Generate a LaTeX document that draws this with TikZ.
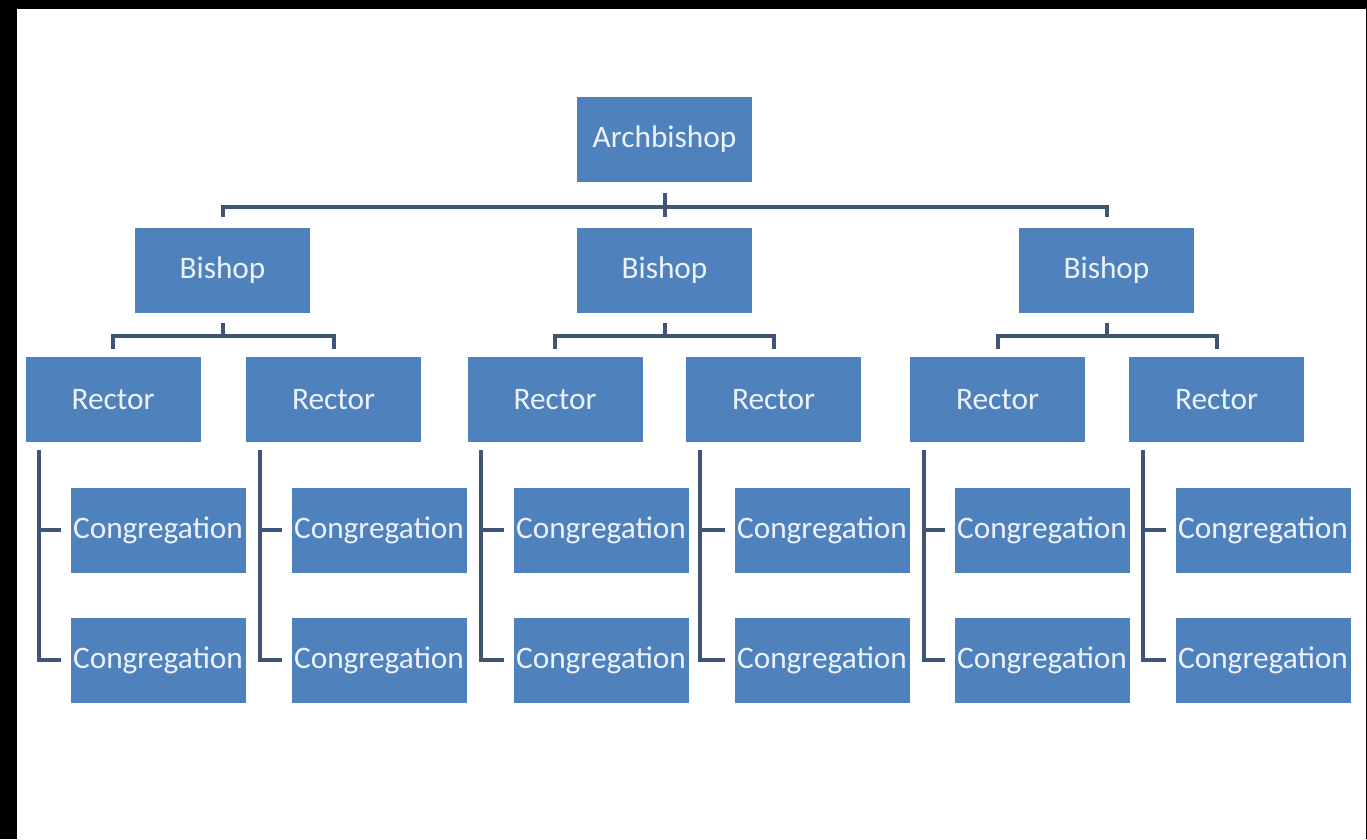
\documentclass[tikz,border=0pt]{standalone}
\usepackage{fontspec}
\setmainfont{Carlito}
\usetikzlibrary{calc}
\definecolor{boxblue}{RGB}{79,129,189}
\definecolor{linec}{RGB}{64,84,118}
\definecolor{txt}{RGB}{235,242,252}
\begin{document}
\begin{tikzpicture}[x=0.75pt,y=-0.75pt,
  box/.style={fill=boxblue,draw=none,minimum width=131.25pt,minimum height=63.75pt,inner sep=0pt,text=txt,font=\fontsize{23.5}{26}\selectfont},
  conn/.style={draw=linec,line width=3pt}]
\useasboundingbox (0,0) rectangle (1367,839);
\fill[black] (0,0) rectangle (1367,839);
\fill[white] (17,9) rectangle (1366,839);
% nodes
\node[box] (arch) at (664.5,139.5) {Archbishop};
\node[box] (b1) at (222.5,270) {Bishop};
\node[box] (b2) at (664.5,270) {Bishop};
\node[box] (b3) at (1106.5,270) {Bishop};
\node[box] (r1) at (113,399.5) {Rector};
\node[box] (r2) at (333.5,399.5) {Rector};
\node[box] (r3) at (555,399.5) {Rector};
\node[box] (r4) at (773.5,399.5) {Rector};
\node[box] (r5) at (997.5,399.5) {Rector};
\node[box] (r6) at (1216.5,399.5) {Rector};
\foreach \i/\x in {1/158,2/379,3/601,4/822,5/1042,6/1263}{
  \node[box] (c\i a) at (\x,530) {Congregation};
  \node[box] (c\i b) at (\x,660) {Congregation};
}
% archbishop to bishops
\draw[conn] ($(arch.south)+(0,11)$) -- ($(b2.north)+(0,-10)$);
\coordinate (abar) at ($(arch.south)+(0,25)$);
\draw[conn] ($(b1.north)+(0,-10)$) |- (abar) -| ($(b3.north)+(0,-10)$);
% bishops to rectors
\foreach \b/\l/\r in {b1/r1/r2,b2/r3/r4,b3/r5/r6}{
  \draw[conn] ($(\b.south)+(0,10)$) -- ($(\b.south)+(0,23)$) coordinate (bar\b);
  \draw[conn] ($(\l.north)+(0,-8)$) |- (bar\b) -| ($(\r.north)+(0,-8)$);
}
% rectors to congregations
\foreach \i in {1,...,6}{
  \coordinate (v\i) at ($(r\i.south west)+(14,8)$);
  \coordinate (ea\i) at ($(c\i a.west)+(-9,0)$);
  \coordinate (eb\i) at ($(c\i b.west)+(-9,0)$);
  \draw[conn] (v\i) |- (eb\i);
  \draw[conn] (v\i |- ea\i) -- (ea\i);
}
\end{tikzpicture}
\end{document}
